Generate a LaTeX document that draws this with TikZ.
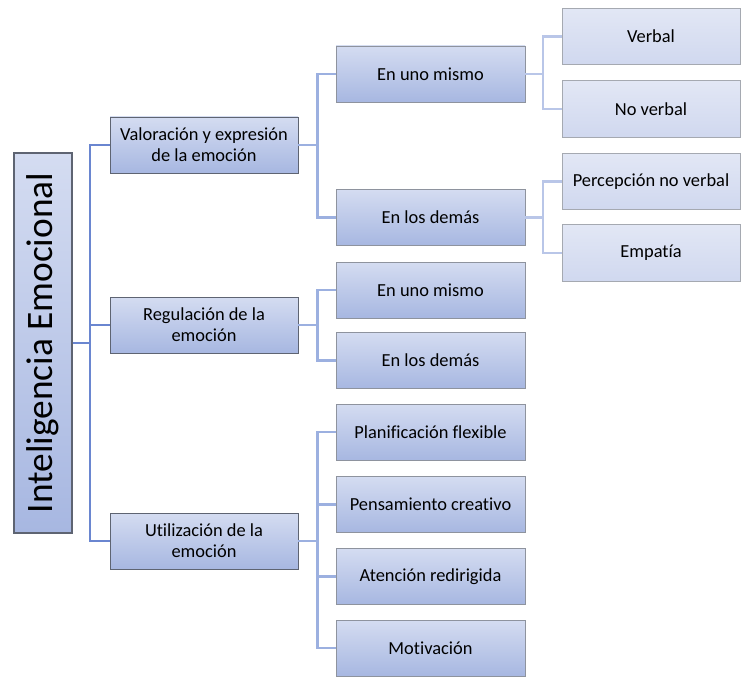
\documentclass[tikz,border=0pt]{standalone}
\usepackage{fontspec}
\setmainfont{Carlito}[Ligatures=NoCommon]
\usetikzlibrary{positioning,calc}
\definecolor{cajaarriba}{HTML}{D4DCF1}
\definecolor{cajaabajo}{HTML}{A7B7E1}
\definecolor{hojaarriba}{HTML}{E2E7F5}
\definecolor{hojaabajo}{HTML}{D0D8EF}
\definecolor{bordeosc}{HTML}{5E6472}
\definecolor{bordeclaro}{HTML}{8E939E}
\definecolor{lineaosc}{HTML}{6A86D0}
\definecolor{lineamed}{HTML}{9CB0E0}
\definecolor{lineaclara}{HTML}{B9C6E8}

\tikzset{
  raiz/.style={draw=bordeosc,line width=0.8pt,top color=cajaarriba,bottom color=cajaabajo,
    minimum width=43.5pt,minimum height=285pt,inner sep=0pt},
  rama/.style={draw=bordeosc,line width=0.7pt,top color=cajaarriba,bottom color=cajaabajo,
    minimum width=141pt,minimum height=42pt,align=center,font=\fontsize{13.8}{16}\selectfont,inner sep=1pt},
  sub/.style={draw=bordeclaro,line width=0.6pt,top color=cajaarriba,bottom color=cajaabajo,
    minimum width=141.75pt,minimum height=42pt,align=center,font=\fontsize{13.8}{16}\selectfont,inner sep=1pt},
  hoja/.style={draw=bordeclaro!80,line width=0.6pt,top color=hojaarriba,bottom color=hojaabajo,
    minimum width=133.5pt,minimum height=42.5pt,align=center,font=\fontsize{13.8}{16}\selectfont,inner sep=1pt},
  conex/.style={line width=1.6pt}
}

\begin{document}
\begin{tikzpicture}[x=0.75pt,y=-0.75pt]
        \useasboundingbox (0,0) rectangle (741,677);
        % Raiz
        \node[raiz] (raiz) at (43,343)
          {\rotatebox{90}{\fontsize{28}{32}\selectfont Inteligencia Emocional}};
        % Ramas principales
        \node[rama] (val) at (204,145) {Valoración y expresión\\de la emoción};
        \node[rama] (reg) at (204,325) {Regulación de la\\emoción};
        \node[rama] (uti) at (204,541) {Utilización de la\\emoción};
        % Segundo nivel
        \foreach \n/\y/\t in {v1/74/En uno mismo, v2/217.5/En los demás,
          r1/290/En uno mismo, r2/360.5/En los demás,
          u1/432/Planificación flexible, u2/504.5/Pensamiento creativo,
          u3/576.5/Atención redirigida, u4/648/Motivación}{
          \node[sub] (\n) at (430.5,\y) {\t};}
        % Tercer nivel
        \foreach \n/\y/\t in {h1/36.5/Verbal, h2/109/No verbal,
          h3/181.5/Percepción no verbal, h4/253/Empatía}{
          \node[hoja] (\n) at (651,\y) {\t};}
        % Conectores
        \coordinate (j0) at (90,343);
        \coordinate (j1) at (317.5,145);
        \coordinate (j2) at (317.5,325);
        \coordinate (j3) at (317.5,541);
        \coordinate (j4) at (543,74);
        \coordinate (j5) at (543,217.5);
        \foreach \h in {val,reg,uti}{
          \draw[conex,lineaosc] (raiz.east) -- (j0) |- (\h.west);}
        \foreach \j/\h in {j1/v1,j1/v2,j2/r1,j2/r2,j3/u1,j3/u2,j3/u3,j3/u4}{
          \draw[conex,lineamed] (\j) |- (\h.west);}
        \draw[conex,lineamed] (val.east) -- (j1);
        \draw[conex,lineamed] (reg.east) -- (j2);
        \draw[conex,lineamed] (uti.east) -- (j3);
        \foreach \j/\h in {j4/h1,j4/h2,j5/h3,j5/h4}{
          \draw[conex,lineaclara] (\j) |- (\h.west);}
        \draw[conex,lineaclara] (v1.east) -- (j4);
        \draw[conex,lineaclara] (v2.east) -- (j5);
      \end{tikzpicture}
\end{document}
